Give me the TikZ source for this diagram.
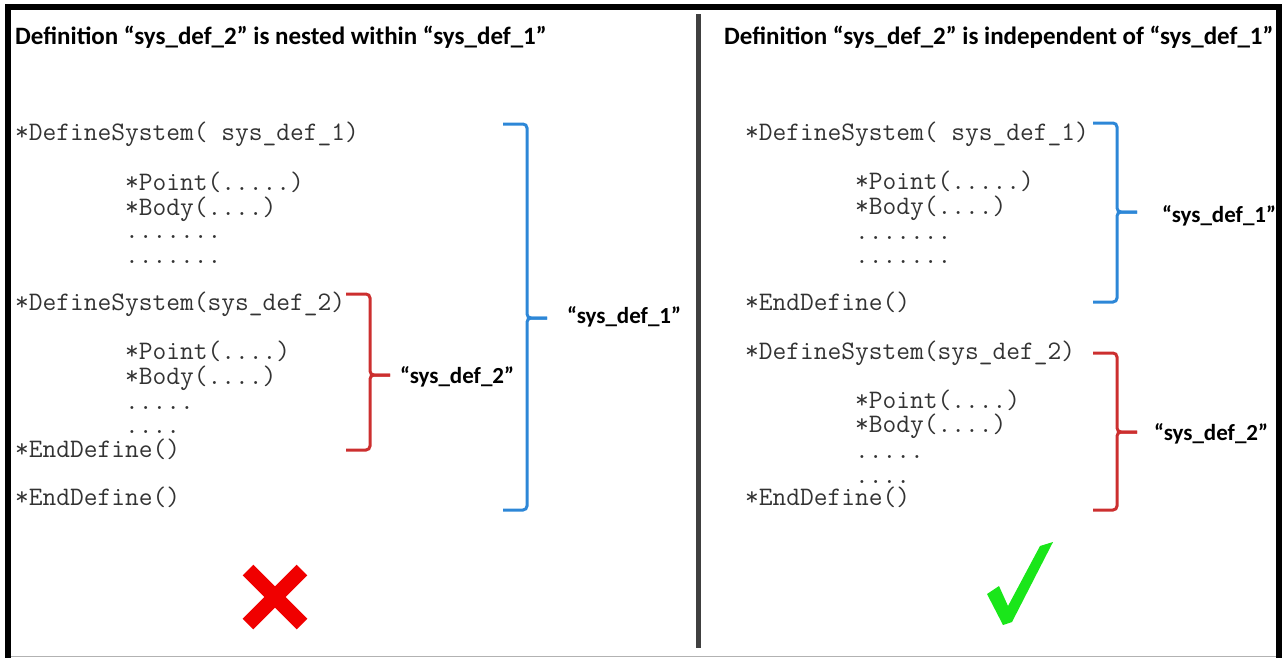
\documentclass[tikz,border=0pt]{standalone}
\usepackage{fontspec}
\usepackage{xcolor}
\usepackage{tikz}
\newfontfamily\headfont{Carlito}
\definecolor{braceblue}{HTML}{2D87D7}
\definecolor{bracered}{HTML}{CC2F2F}
\definecolor{crossred}{HTML}{F00000}
\definecolor{tickgreen}{HTML}{1AE61A}
\definecolor{divider}{HTML}{404040}
\newcommand{\sysbrace}[5]{% colour, x, top, tip, bottom
  \draw[bracket, #1] ({#2-24},#3) -- (#2,#3) -- (#2,#4) -- ({#2+20},#4);
  \draw[bracket, #1] ({#2+20},#4) -- (#2,#4) -- (#2,#5) -- ({#2-24},#5);}

\begin{document}
\begin{tikzpicture}[
  x=1pt, y=-1pt,
  heading/.style={anchor=west, inner sep=0pt, font=\headfont\bfseries\fontsize{25}{27}\selectfont},
  code/.style={anchor=west, inner sep=0pt, text height=10pt, text depth=2pt, yshift=-3pt,
               text=black!80, font=\ttfamily\fontsize{26.7}{27}\selectfont},
  dotrow/.style={code, text height=4pt, text depth=0pt, yshift=0pt},
  tag/.style={anchor=west, inner sep=0pt, font=\headfont\bfseries\fontsize{23}{25}\selectfont},
  bracket/.style={line width=3pt, rounded corners=4pt}
]
  \useasboundingbox (0,0) rectangle (1285,657);
  % frame and divider
  \draw[line width=6pt] (8,660) -- (8,7) -- (1279,7) -- (1279,660);
  \draw[gray!60, line width=1pt] (11,656) -- (1276,656);
  \draw[divider, line width=5pt] (698,14) -- (698,648);

  % left: nested
  \node[heading] (headL) at (15,37) {Definition “sys\_def\_2” is nested within “sys\_def\_1”};
  \node[code] (defL1) at (15,133) {*DefineSystem( sys\_def\_1)};
  \node[code] (ptL1) at (125,183) {*Point(.....)};
  \node[code] (bdL1) at (125,208) {*Body(....)};
  \node[dotrow] (dtL1) at (125,233) {.......};
  \node[dotrow] (dtL2) at (125,258) {.......};
  \node[code] (defL2) at (15,303) {*DefineSystem(sys\_def\_2)};
  \node[code] (ptL2) at (125,352) {*Point(....)};
  \node[code] (bdL2) at (125,377) {*Body(....)};
  \node[dotrow] (dtL3) at (125,404) {.....};
  \node[dotrow] (dtL4) at (125,428) {....};
  \node[code] (endL2) at (15,450) {*EndDefine()};
  \node[code] (endL1) at (15,498) {*EndDefine()};

  \sysbrace{braceblue}{527}{124}{318}{510}
  \sysbrace{bracered}{370}{294}{375}{450}
  \node[tag] (tagL1) at (567,317) {“sys\_def\_1”};
  \node[tag] (tagL2) at (400,377) {“sys\_def\_2”};

  % cross
  \draw[crossred, line width=15pt] (248,570) -- (302,624);
  \draw[crossred, line width=15pt] (302,570) -- (248,624);

  % right: independent
  \node[heading] (headR) at (724,37) {Definition “sys\_def\_2” is independent of “sys\_def\_1”};
  \node[code] (defR1) at (745,133) {*DefineSystem( sys\_def\_1)};
  \node[code] (ptR1) at (855,182) {*Point(.....)};
  \node[code] (bdR1) at (855,207) {*Body(....)};
  \node[dotrow] (dtR1) at (855,234) {.......};
  \node[dotrow] (dtR2) at (855,258) {.......};
  \node[code] (endR1) at (745,303) {*EndDefine()};
  \node[code] (defR2) at (745,352) {*DefineSystem(sys\_def\_2)};
  \node[code] (ptR2) at (855,401) {*Point(....)};
  \node[code] (bdR2) at (855,425) {*Body(....)};
  \node[dotrow] (dtR3) at (855,453) {.....};
  \node[dotrow] (dtR4) at (855,478) {....};
  \node[code] (endR2) at (745,498) {*EndDefine()};

  \sysbrace{braceblue}{1117}{123}{212}{302}
  \sysbrace{bracered}{1117}{353}{432}{510}
  \node[tag] (tagR1) at (1162,216) {“sys\_def\_1”};
  \node[tag] (tagR2) at (1154,434) {“sys\_def\_2”};

  % tick
  \fill[tickgreen] (987,594) -- (999,586) -- (1008,606) -- (1040,546) -- (1053,542)
    -- (1012,622) -- (1003,625) -- cycle;
\end{tikzpicture}
\end{document}
